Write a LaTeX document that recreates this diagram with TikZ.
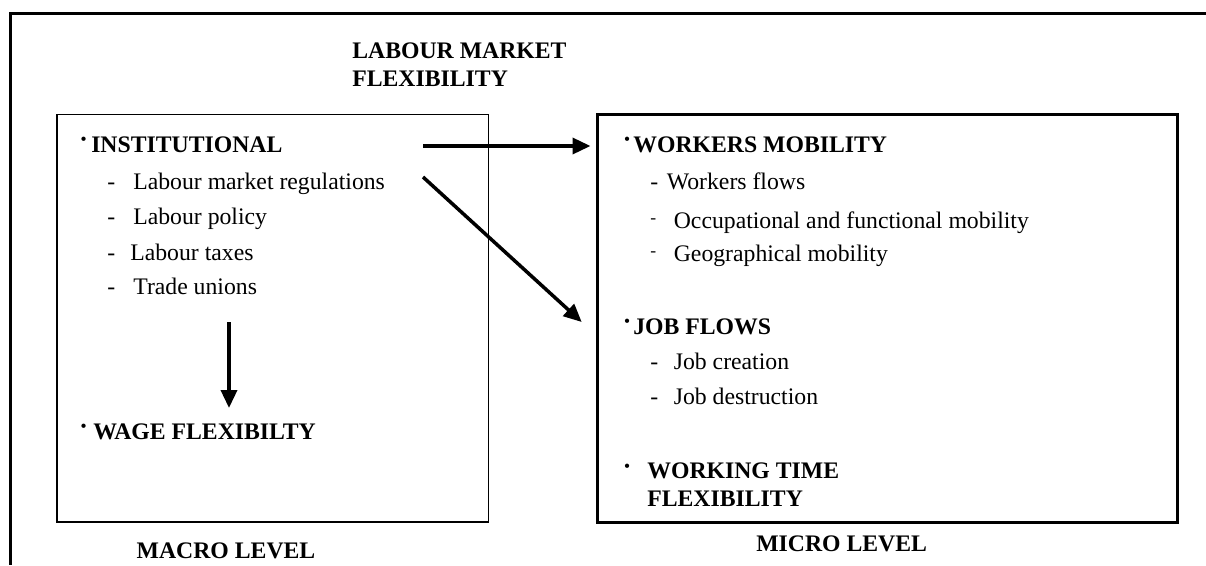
\documentclass[tikz,border=0pt]{standalone}
\usepackage{fontspec}
\setmainfont{Liberation Serif}
\usetikzlibrary{arrows.meta}
\newcommand\bul[1]{\makebox[#1][l]{\raisebox{.3em}{\fontsize{9}{9}\selectfont\textbullet}}}
\newcommand\dsh[1]{\makebox[#1][l]{-}}
\newcommand\dshup[1]{\makebox[#1][l]{\raisebox{.2em}{\fontsize{10}{10}\selectfont-}}}

\begin{document}
\begin{tikzpicture}[x=0.02cm,y=-0.02cm,
  txt/.style={anchor=base west,inner sep=0pt,font=\fontsize{13.5}{15.4}\selectfont},
  head/.style={txt,font=\fontsize{13.5}{15.4}\selectfont\bfseries},
  flow/.style={-{Triangle[length=0.36cm,width=0.32cm]},line width=2pt}]
\useasboundingbox (0,0) rectangle (1206,565);
\draw[line width=1.7pt] (1206,13.3) -- (10.7,13.3) -- (10.7,565);

\path
(56.3,114) node[draw,line width=0.7pt,anchor=north west,inner sep=0pt,
  minimum width=8.63cm,minimum height=8.15cm](macro){}
(596,113.3) node[draw,line width=1.7pt,anchor=north west,inner sep=0pt,
  minimum width=11.61cm,minimum height=8.15cm](micro){};

\path
(352,86) node[head,align=left](lmf){LABOUR MARKET\\FLEXIBILITY}
(80.4,152) node[head](inst){\bul{0.21cm}INSTITUTIONAL}
(107,189) node[txt](reg){\dsh{0.52cm}Labour market regulations}
(107,224) node[txt](pol){\dsh{0.52cm}Labour policy}
(107,260) node[txt](tax){\dsh{0.46cm}Labour taxes}
(107,294) node[txt](uni){\dsh{0.52cm}Trade unions}
(80.4,439) node[head](wage){\bul{0.25cm}WAGE FLEXIBILTY}
(226,558) node[head,anchor=base](macrolbl){MACRO LEVEL}
(624,152) node[head](wmob){\bul{0.18cm}WORKERS MOBILITY}
(650,189) node[txt](wfl){\dsh{0.33cm}Workers flows}
(650,228) node[txt](occ){\dshup{0.47cm}Occupational and functional mobility}
(650,261) node[txt](geo){\dshup{0.47cm}Geographical mobility}
(624,334) node[head](jobs){\bul{0.18cm}JOB FLOWS}
(650,369) node[txt](jcr){\dsh{0.47cm}Job creation}
(650,404) node[txt](jde){\dsh{0.47cm}Job destruction}
(624,506) node[head,align=left](wtf){\bul{0.46cm}WORKING TIME\\\hspace*{0.46cm}FLEXIBILITY}
(841.6,551) node[head,anchor=base](microlbl){MICRO LEVEL};

\coordinate (hs) at (423,146);
\coordinate (ds) at (423,177);
\coordinate (de) at (581.7,322);
\coordinate (ws) at (229,322);
\coordinate (we) at (229,408);

\draw[flow,shorten >=0.11cm] (hs) -- (hs -| micro.west);
\draw[flow] (ds) -- (de);
\draw[flow] (ws) -- (we);
\end{tikzpicture}
\end{document}
